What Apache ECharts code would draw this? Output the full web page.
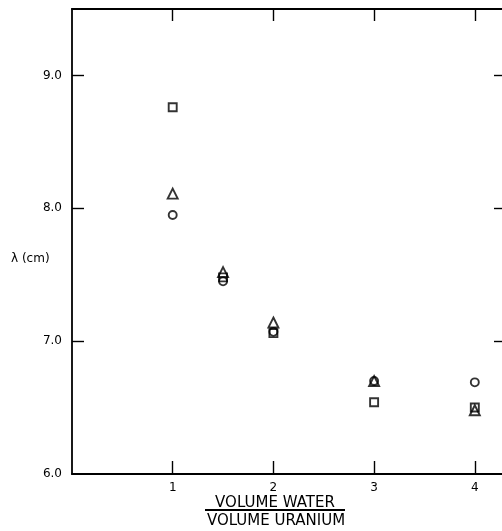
<!DOCTYPE html>
<html>
<head>
<meta charset="utf-8">
<script src="https://cdn.jsdelivr.net/npm/echarts@6/dist/echarts.min.js"></script>
<style>
  html, body { margin: 0; padding: 0; background: #fff; }
  #main { width: 502px; height: 531px; }
</style>
</head>
<body>
<div id="main"></div>
<script>
// volume water / volume uranium
var ratios = [1, 1.5, 2, 3, 4];
// lambda (cm) for each marker type
var squareVals = [8.76, 7.48, 7.06, 6.54, 6.50];
var triangleVals = [8.11, 7.52, 7.14, 6.70, 6.48];
var circleVals = [7.95, 7.45, 7.07, 6.70, 6.69];
var xTicks = [1, 2, 3, 4];
var yTicks = [6, 7, 8, 9];

function pairs(vals) {
    return ratios.map(function (r, i) { return [r, vals[i]]; });
}

var myChart = echarts.init(document.getElementById('main'));

var font = 'DejaVu Sans';
var tickStyle = { color: '#000', width: 1.4 };

function markerSeries(name, symbol, size, vals) {
    return {
        name: name,
        type: 'scatter',
        symbol: symbol,
        symbolSize: size,
        data: pairs(vals),
        itemStyle: { color: 'rgba(0,0,0,0)', borderColor: '#000', borderWidth: 1.9 }
    };
}

myChart.setOption({
    animation: false,
    grid: { left: 72, right: 0, top: 9, bottom: 57 },
    xAxis: [{
        type: 'value', min: 0, max: 4.27,
        axisLine: { show: true, onZero: false, lineStyle: { color: '#000', width: 2 } },
        axisTick: { inside: true, length: 13, customValues: xTicks, lineStyle: tickStyle },
        axisLabel: { color: '#000', fontFamily: font, fontSize: 12, margin: 8, customValues: xTicks },
        splitLine: { show: false }
    }, {
        type: 'value', min: 0, max: 4.27, position: 'top',
        axisLine: { show: true, onZero: false, lineStyle: { color: '#000', width: 2 } },
        axisTick: { inside: true, length: 12, customValues: xTicks, lineStyle: tickStyle },
        axisLabel: { show: false },
        splitLine: { show: false }
    }],
    yAxis: [{
        type: 'value', min: 6, max: 9.5,
        axisLine: { show: true, onZero: false, lineStyle: { color: '#000', width: 1.8 } },
        axisTick: { inside: true, length: 12, customValues: yTicks.slice(1), lineStyle: tickStyle },
        axisLabel: {
            color: '#000', fontFamily: font, fontSize: 12, margin: 10, customValues: yTicks,
            formatter: function (v) { return v.toFixed(1); }
        },
        splitLine: { show: false }
    }, {
        type: 'value', min: 6, max: 9.5, position: 'right',
        axisLine: { show: false, onZero: false },
        axisTick: { inside: true, length: 8, customValues: yTicks.slice(1), lineStyle: tickStyle },
        axisLabel: { show: false },
        splitLine: { show: false }
    }],
    graphic: [
        { type: 'text', left: 11, top: 253, style: { text: 'λ (cm)', font: '12px ' + font, fill: '#000' } },
        { type: 'text', x: 275, y: 496, style: { text: 'VOLUME WATER', font: '15px ' + font, fill: '#000', align: 'center' } },
        { type: 'line', shape: { x1: 205, y1: 510, x2: 345, y2: 510 }, style: { stroke: '#000', lineWidth: 1.8 } },
        { type: 'text', x: 276, y: 514, style: { text: 'VOLUME URANIUM', font: '15px ' + font, fill: '#000', align: 'center' } }
    ],
    series: [
        markerSeries('square', 'rect', 8, squareVals),
        markerSeries('triangle', 'triangle', 10, triangleVals),
        markerSeries('circle', 'circle', 8, circleVals)
    ]
});
</script>
</body>
</html>
